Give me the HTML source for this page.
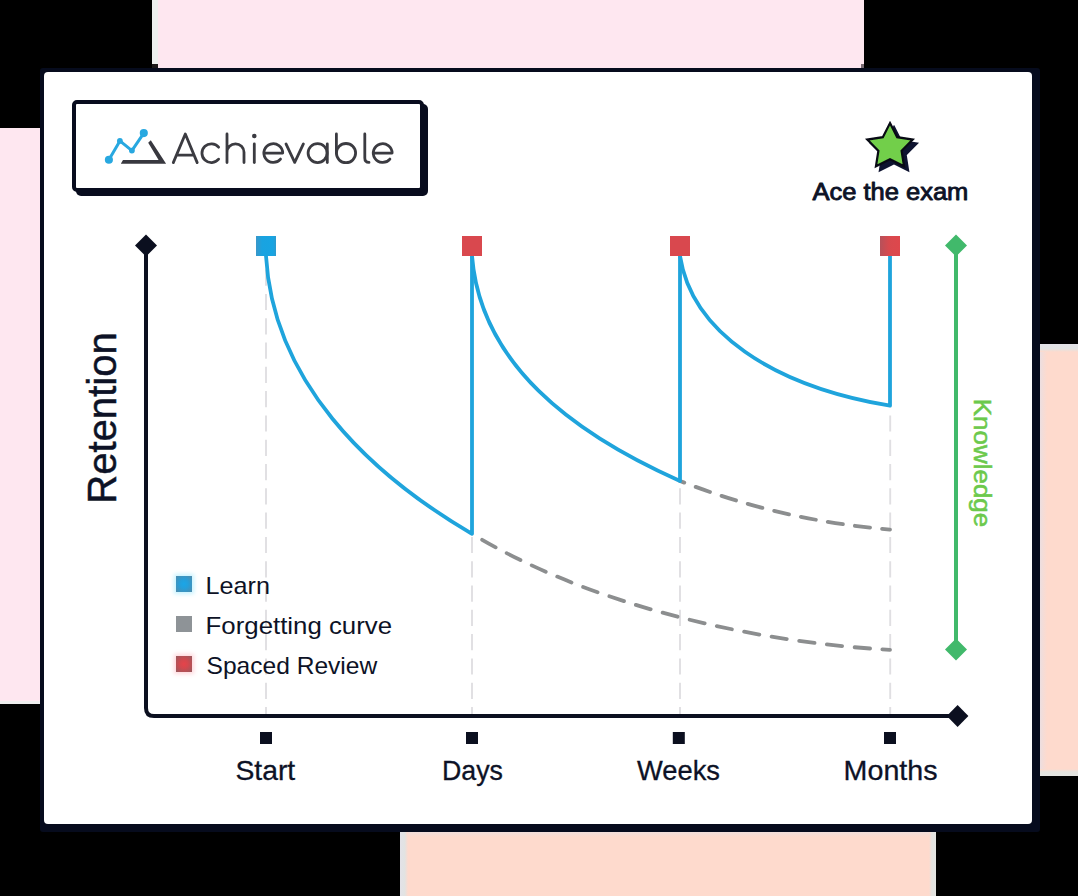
<!DOCTYPE html>
<html>
<head>
<meta charset="utf-8">
<title>Achievable - Spaced repetition retention chart</title>
<style>
  html, body { margin: 0; padding: 0; background: #000; }
  body { width: 1078px; height: 896px; overflow: hidden; font-family: "Liberation Sans", sans-serif; }
  svg { display: block; }
  text { font-family: "Liberation Sans", sans-serif; }
</style>
</head>
<body>
<svg width="1078" height="896" viewBox="0 0 1078 896">
  <defs>
    <linearGradient id="gPeachL" x1="0" x2="1" y1="0" y2="0">
      <stop offset="0" stop-color="#ecdee0"/><stop offset="1" stop-color="#fedacd"/>
    </linearGradient>
    <linearGradient id="gPeachT" x1="0" x2="0" y1="0" y2="1">
      <stop offset="0" stop-color="#f1dedb"/><stop offset="1" stop-color="#fedacd"/>
    </linearGradient>
    <linearGradient id="gBandH" x1="0" x2="1" y1="0" y2="0">
      <stop offset="0" stop-color="#e3e2e8"/><stop offset="0.6" stop-color="#e2e3e2"/><stop offset="1" stop-color="#fedacd"/>
    </linearGradient>
    <linearGradient id="gBandHr" x1="1" x2="0" y1="0" y2="0">
      <stop offset="0" stop-color="#e4e5e2"/><stop offset="0.6" stop-color="#e4e3df"/><stop offset="1" stop-color="#fedacd"/>
    </linearGradient>
    <linearGradient id="gBandV" x1="0" x2="0" y1="0" y2="1">
      <stop offset="0" stop-color="#e3e2e8"/><stop offset="0.6" stop-color="#e2e3e2"/><stop offset="1" stop-color="#fedacd"/>
    </linearGradient>
    <linearGradient id="gBandVb" x1="0" x2="0" y1="1" y2="0">
      <stop offset="0" stop-color="#e4e5e2"/><stop offset="0.6" stop-color="#e4e3df"/><stop offset="1" stop-color="#fedacd"/>
    </linearGradient>
    <radialGradient id="lgBlue" cx="0.5" cy="0.5" r="0.75">
      <stop offset="0" stop-color="#1aa6e8"/><stop offset="0.35" stop-color="#249fdb"/><stop offset="1" stop-color="#5589a6"/>
    </radialGradient>
    <radialGradient id="lgRed" cx="0.5" cy="0.5" r="0.75">
      <stop offset="0" stop-color="#e6434a"/><stop offset="0.35" stop-color="#d3484e"/><stop offset="1" stop-color="#8f5c60"/>
    </radialGradient>
    <filter id="glow" x="-1" y="-1" width="3" height="3"><feGaussianBlur stdDeviation="2.2"/></filter>
    <linearGradient id="mkBlue" x1="0" x2="1" y1="0" y2="0">
      <stop offset="0" stop-color="#3a97c9"/><stop offset="0.3" stop-color="#19a3e0"/><stop offset="0.85" stop-color="#17a4e2"/><stop offset="1" stop-color="#2d9ace"/>
    </linearGradient>
    <linearGradient id="mkRed4" x1="0" x2="1" y1="0" y2="0">
      <stop offset="0" stop-color="#b6515a"/><stop offset="0.45" stop-color="#d8494e"/><stop offset="1" stop-color="#de474c"/>
    </linearGradient>
    <path id="star" d="M0.00,-23.90 L7.17,-9.87 L22.73,-7.39 L11.60,3.77 L14.05,19.34 L0.00,12.20 L-14.05,19.34 L-11.60,3.77 L-22.73,-7.39 L-7.17,-9.87 Z"/>
  </defs>

  <!-- background -->
  <rect x="0" y="0" width="1078" height="896" fill="#000000"/>

  <!-- pastel blocks -->
  <rect x="152" y="0" width="712" height="68" fill="#fee7f0"/>
  <rect x="152" y="0" width="6" height="64" fill="#eef0ef"/>
  <rect x="152" y="64" width="6" height="4" fill="#1d191a"/>
  <rect x="861" y="64" width="3" height="4" fill="#7b6c74"/>
  <rect x="0" y="128" width="40" height="576" fill="#fee7f0"/>
  <rect x="0" y="701" width="40" height="3" fill="#eeeeee"/>
  <rect x="1040" y="344" width="38" height="432" fill="#fedacd"/>
  <rect x="1040" y="344" width="7" height="432" fill="url(#gPeachL)"/>
  <rect x="1040" y="344" width="38" height="8" fill="url(#gBandV)"/>
  <rect x="1040" y="769" width="38" height="7" fill="url(#gBandVb)"/>
  <rect x="400" y="832" width="536" height="64" fill="#fedacd"/>
  <rect x="400" y="832" width="536" height="5" fill="url(#gPeachT)"/>
  <rect x="400" y="832" width="8" height="64" fill="url(#gBandH)"/>
  <rect x="929" y="832" width="7" height="64" fill="url(#gBandHr)"/>

  <!-- card -->
  <rect x="40" y="68" width="1000" height="764" rx="3" fill="#060b1d"/>
  <rect x="44" y="72" width="988" height="752" rx="4" fill="#ffffff"/>

  <!-- logo box -->
  <rect x="76" y="104" width="352" height="92" rx="5" fill="#080c1e"/>
  <rect x="74" y="102" width="348" height="88" rx="3" fill="#ffffff" stroke="#080c1e" stroke-width="4"/>

  <!-- logo icon -->
  <g fill="none" stroke-linecap="round">
    <path d="M120.8,163.8 L123,160 L158.6,160 L148.2,142.8 L150.8,140.2 L166.1,163.8 Z" fill="#38383f" stroke="none"/>
    <path d="M108.9,159.8 L119.9,140.9 L131.9,150.6 L143.8,133.1" stroke="#28a8e0" stroke-width="3" stroke-linejoin="round"/>
  </g>
  <g fill="#28a8e0">
    <circle cx="108.9" cy="159.8" r="4.05"/>
    <circle cx="119.9" cy="140.9" r="2.9"/>
    <circle cx="131.9" cy="150.6" r="2.9"/>
    <circle cx="143.8" cy="133.1" r="4.05"/>
  </g>

  <!-- logo wordmark "Achievable" drawn with strokes -->
  <g fill="none" stroke="#3b3b41" stroke-width="2.8" stroke-linecap="round" stroke-linejoin="round">
    <!-- A -->
    <path d="M173.3,162.6 L185.3,134 L197.2,162.6 M177,155.2 H193.6"/>
    <!-- c -->
    <path d="M218.6,147.2 A9.4,9.4 0 1 0 218.6,159.2"/>
    <!-- h -->
    <path d="M227,134 V162.6 M227,152.3 A8.5,8.5 0 0 1 244,152.3 V162.6"/>
    <!-- i -->
    <path d="M254.3,144 V162.6"/>
    <!-- e -->
    <path d="M263.9,153.1 H282.7 A9.4,9.4 0 1 0 280.5,159.1"/>
    <!-- v -->
    <path d="M286,143.9 L294.7,162.4 L303.4,143.9"/>
    <!-- a -->
    <circle cx="317.6" cy="153.1" r="9.5"/>
    <path d="M327.3,143.9 V162.6"/>
    <!-- b -->
    <path d="M336.4,134 V153.1"/>
    <circle cx="346" cy="153.1" r="9.6"/>
    <!-- l -->
    <path d="M364.8,134 V158 Q364.8,162.4 369,162.4"/>
    <!-- e -->
    <path d="M373.3,153.1 H392.1 A9.4,9.4 0 1 0 389.9,159.1"/>
  </g>
  <circle cx="254.3" cy="136" r="2.3" fill="#3b3b41"/>

  <!-- star -->
  <use href="#star" transform="translate(894,151)" fill="#0e1330" stroke="#0e1330" stroke-width="2.2" stroke-linejoin="miter"/>
  <use href="#star" transform="translate(890,147)" fill="#72cf4a" stroke="#080a14" stroke-width="2.2" stroke-linejoin="miter"/>
  <text x="812.4" y="199.5" font-size="23" fill="#0d1226" stroke="#0d1226" stroke-width="0.85" stroke-linejoin="round" textLength="156" lengthAdjust="spacingAndGlyphs">Ace the exam</text>

  <!-- vertical dashed guides -->
  <g stroke="#e0dfe2" stroke-width="1.9" stroke-dasharray="16.2 8.1" fill="none">
    <path d="M266,269.6 V714"/>
    <path d="M472,269.6 V714"/>
    <path d="M680,269.6 V714"/>
    <path d="M890.2,269.6 V714"/>
  </g>

  <!-- forgetting curves (dashed) -->
  <g stroke="#8c8e8f" stroke-width="3.8" fill="none" stroke-linecap="round">
    <path d="M472,533.8 C590.2,605.3 753.9,642.4 890,649.8" stroke-dasharray="15.4 12.47" stroke-dashoffset="16"/>
    <path d="M680,481 C754.6,509.9 818.3,523.1 890,529.6" stroke-dasharray="15.3 12.1" stroke-dashoffset="10.8"/>
  </g>

  <!-- learning curves -->
  <g stroke="#1fa4dc" stroke-width="3.8" fill="none" stroke-linejoin="round">
    <path d="M266,256 C273,380.6 367.6,472.7 472,533.8 V256"/>
    <path d="M472,256 C480.5,363.5 571.4,432.6 680,481 V256"/>
    <path d="M680,256 C691.7,331.6 771.5,385.8 890,405.7 V256"/>
  </g>

  <!-- markers -->
  <rect x="256" y="236" width="20" height="20" fill="url(#mkBlue)"/>
  <rect x="462" y="236" width="20" height="20" fill="#d9484e"/>
  <rect x="670" y="236" width="20" height="20" fill="#d9484e"/>
  <rect x="880" y="236" width="20" height="20" fill="url(#mkRed4)"/>

  <!-- axes -->
  <path d="M146,250 V708 Q146,716 154,716 H952" stroke="#0b0f1f" stroke-width="4" fill="none"/>
  <path d="M146,234.5 L157,245.5 L146,256.5 L135,245.5 Z" fill="#0b0f1f"/>
  <path d="M957.6,705 L968.4,716 L957.6,727 L946.8,716 Z" fill="#0b0f1f"/>

  <!-- knowledge line -->
  <path d="M956,250 V645" stroke="#41b96b" stroke-width="4" fill="none"/>
  <path d="M956,234.5 L967,245.5 L956,256.5 L945,245.5 Z" fill="#41b96b"/>
  <path d="M956,638.5 L967,649.5 L956,660.5 L945,649.5 Z" fill="#41b96b"/>
  <text transform="translate(974.3,398.8) rotate(90)" font-size="24.6" fill="#6cc94c" stroke="#6cc94c" stroke-width="0.55" textLength="128.4" lengthAdjust="spacingAndGlyphs">Knowledge</text>

  <!-- y label -->
  <text transform="translate(115.8,503.8) rotate(-90)" font-size="40.6" fill="#0d1226" stroke="#0d1226" stroke-width="0.5" textLength="171.6" lengthAdjust="spacingAndGlyphs">Retention</text>

  <!-- legend -->
  <rect x="174" y="574" width="20" height="20" fill="#7fe3ff" opacity="0.45" filter="url(#glow)"/>
  <rect x="174" y="654" width="20" height="20" fill="#ff9aa6" opacity="0.4" filter="url(#glow)"/>
  <rect x="176" y="576" width="16" height="16" fill="url(#lgBlue)"/>
  <rect x="176" y="616" width="16" height="16" fill="#8e9397"/>
  <rect x="176" y="656" width="16" height="16" fill="url(#lgRed)"/>
  <g font-size="24" fill="#0d1226">
    <text x="205.6" y="593.6" textLength="64.4" lengthAdjust="spacingAndGlyphs">Learn</text>
    <text x="205.6" y="633.6" textLength="186.4" lengthAdjust="spacingAndGlyphs">Forgetting curve</text>
    <text x="206.6" y="673.6" textLength="170.6" lengthAdjust="spacingAndGlyphs">Spaced Review</text>
  </g>

  <!-- x ticks and labels -->
  <g fill="#0b0f1f">
    <rect x="260" y="732" width="12" height="12"/>
    <rect x="466" y="732" width="12" height="12"/>
    <rect x="672.8" y="732" width="12" height="12"/>
    <rect x="884" y="732" width="12" height="12"/>
  </g>
  <g font-size="28" fill="#0d1226" stroke="#0d1226" stroke-width="0.3">
    <text x="235.4" y="779.8" textLength="59.8" lengthAdjust="spacingAndGlyphs">Start</text>
    <text x="442" y="779.8" textLength="61" lengthAdjust="spacingAndGlyphs">Days</text>
    <text x="637" y="779.8" textLength="83" lengthAdjust="spacingAndGlyphs">Weeks</text>
    <text x="843.6" y="779.8" textLength="94" lengthAdjust="spacingAndGlyphs">Months</text>
  </g>
</svg>
</body>
</html>
